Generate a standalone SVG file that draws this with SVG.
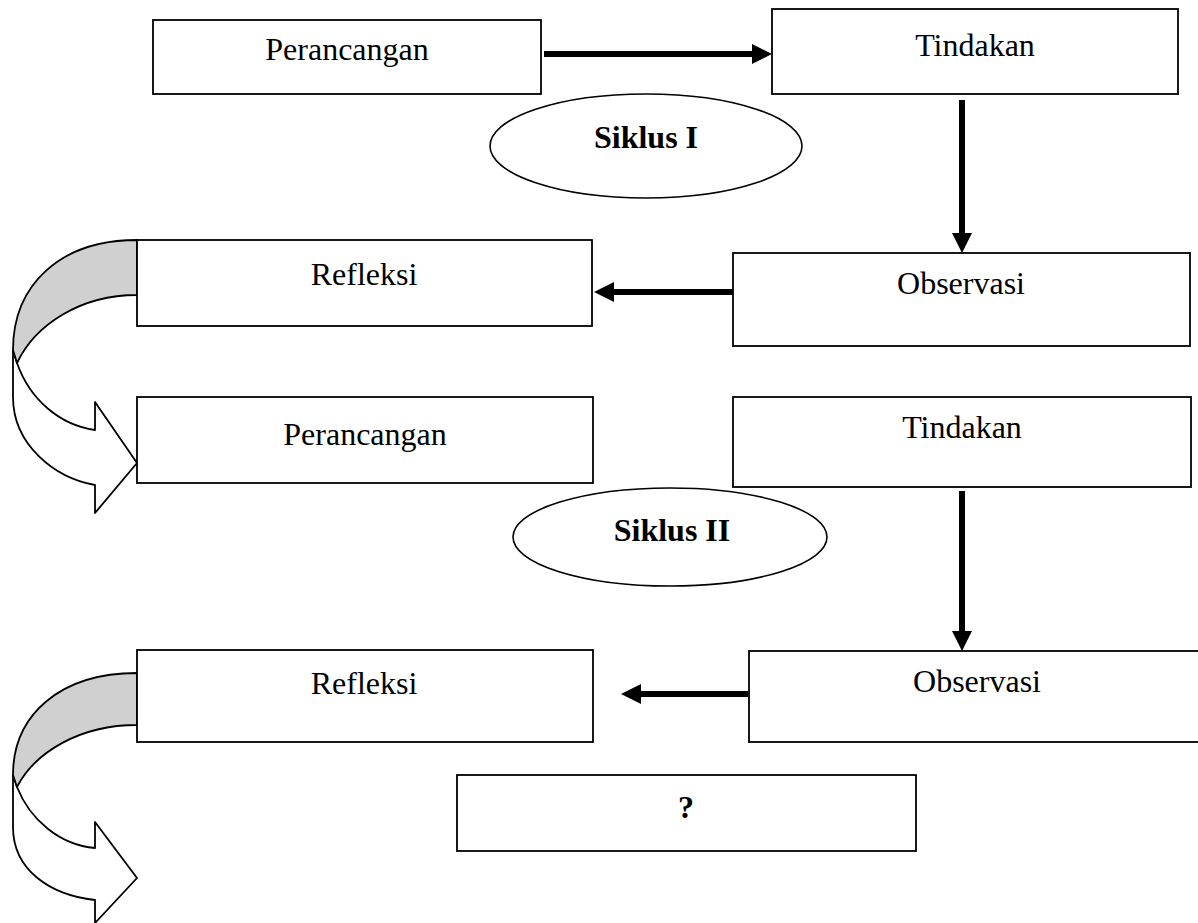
<svg xmlns="http://www.w3.org/2000/svg" width="1198" height="923" viewBox="0 0 1198 923">
<style>
.box{fill:#fff;stroke:#000;stroke-width:1.8}
.ell{fill:#fff;stroke:#000;stroke-width:1.6}
.t{font-family:"Liberation Serif","Times New Roman",serif;font-size:32px;fill:#000;text-anchor:middle}
.b{font-weight:bold}
.conn{stroke:#000;stroke-width:6;fill:none;marker-end:url(#ah)}
.band{fill:#d0d0d0;stroke:#000;stroke-width:1.8;stroke-linejoin:round}
.front{fill:#fff;stroke:#000;stroke-width:1.8;stroke-linejoin:round}
</style>
<defs>
<marker id="ah" markerUnits="userSpaceOnUse" markerWidth="21" markerHeight="21" refX="1" refY="10" orient="auto" overflow="visible">
<path d="M0,0 L20,10 L0,20 Z" fill="#000"/>
</marker>
</defs>
<rect width="1198" height="923" fill="#fff"/>
<g id="curved1">
<path class="front" d="M13,350 L13,397 C13,445 55,478 95,485 L95,513 L137,463 L95,402 L95,430 C60,425 30,400 17,363 Z"/>
<path class="band" d="M137,240 C60,240 13,285 13,350 L17,363 C35,325 80,295 137,295 Z"/>
</g>
<g id="curved2">
<path class="front" d="M13,775 L13,827 C13,870 50,895 95,900 L95,923 L137,878 L95,822 L95,848 C60,845 30,820 17,787 Z"/>
<path class="band" d="M137,673 C60,673 13,715 13,775 L17,787 C35,752 80,725 137,725 Z"/>
</g>
<g id="perancangan1"><rect class="box" x="153" y="20" width="388" height="74"/><text class="t" x="347" y="60">Perancangan</text></g>
<g id="tindakan1"><rect class="box" x="772" y="9" width="406" height="85"/><text class="t" x="975" y="56">Tindakan</text></g>
<g id="siklus1"><ellipse class="ell" cx="646" cy="146" rx="156" ry="52"/><text class="t b" x="646" y="148">Siklus I</text></g>
<g id="refleksi1"><rect class="box" x="137" y="240" width="455" height="86"/><text class="t" x="364" y="285">Refleksi</text></g>
<g id="observasi1"><rect class="box" x="733" y="253" width="457" height="93"/><text class="t" x="961" y="294">Observasi</text></g>
<g id="perancangan2"><rect class="box" x="137" y="397" width="456" height="86"/><text class="t" x="365" y="445">Perancangan</text></g>
<g id="tindakan2"><rect class="box" x="733" y="397" width="458" height="90"/><text class="t" x="962" y="438">Tindakan</text></g>
<g id="siklus2"><ellipse class="ell" cx="670" cy="537" rx="157" ry="49"/><text class="t b" x="672" y="541">Siklus II</text></g>
<g id="refleksi2"><rect class="box" x="137" y="650" width="456" height="92"/><text class="t" x="364" y="694">Refleksi</text></g>
<g id="observasi2"><rect class="box" x="749" y="651" width="460" height="91"/><text class="t" x="977" y="692">Observasi</text></g>
<g id="question"><rect class="box" x="457" y="775" width="459" height="76"/><text class="t b" x="686" y="818">?</text></g>
<g id="connectors">
<line class="conn" x1="544" y1="54" x2="753" y2="54"/>
<line class="conn" x1="962" y1="100" x2="962" y2="234"/>
<line class="conn" x1="733" y1="292" x2="613" y2="292"/>
<line class="conn" x1="962" y1="491" x2="962" y2="632"/>
<line class="conn" x1="748" y1="694" x2="640" y2="694"/>
</g>
</svg>
